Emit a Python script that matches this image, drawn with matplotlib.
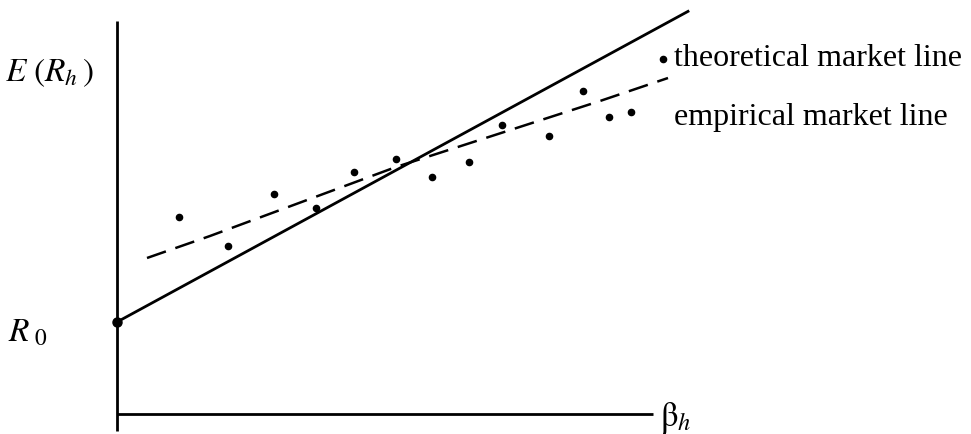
import matplotlib
matplotlib.use('Agg')
import numpy as np
import matplotlib.pyplot as plt

plt.rcParams['mathtext.fontset'] = 'stix'
plt.rcParams['font.family'] = ['Liberation Serif', 'DejaVu Serif']

# coordinates: origin at the corner of the two axes, one unit ~ one pixel
r0 = 92
theory_x = [0, 571]
theory_y = [r0, r0 + 0.544 * 571]

emp_x = [30, 93, 279, 483, 551]
emp_y = [156, 178, 247, 313, 336]

pts_x = [62, 111, 157, 199, 237, 279, 315, 352, 385, 432, 466, 492, 514, 546]
pts_y = [197, 168, 220, 206, 242, 255, 237, 252, 289, 278, 323, 297, 302, 355]

fig = plt.figure(figsize=(9.71, 4.35), dpi=100)
ax = fig.add_axes([0, 0, 1, 1])
ax.set_xlim(-117, 854)
ax.set_ylim(-20, 415)
ax.axis('off')

# axes
ax.plot([0, 0], [-17, 393], color='black', lw=2.0, solid_capstyle='butt')
ax.plot([0, 536], [0, 0], color='black', lw=2.0, solid_capstyle='butt')

# theoretical market line
ax.plot(theory_x, theory_y, color='black', lw=2.0)
ax.plot([0], [r0], 'o', color='black', ms=6.5)

# empirical market line
ax.plot(emp_x, emp_y, color='black', lw=1.8, dashes=(8, 4))

ax.scatter(pts_x, pts_y, s=20, color='black', zorder=3)

ax.text(-112, 342, r'$E\ (R_h\,)$', fontsize=24, ha='left', va='center')
ax.text(-109, 82, r'$R_{\ 0}$', fontsize=24, ha='left', va='center')
ax.text(543, -3, r'$\mathrm{β}_h$', fontsize=25, ha='left', va='center')

ax.text(557, 356, 'theoretical market line', fontsize=23, ha='left', va='center')
ax.text(557, 298, 'empirical market line', fontsize=23, ha='left', va='center')

fig.savefig('out.png', dpi=100)
